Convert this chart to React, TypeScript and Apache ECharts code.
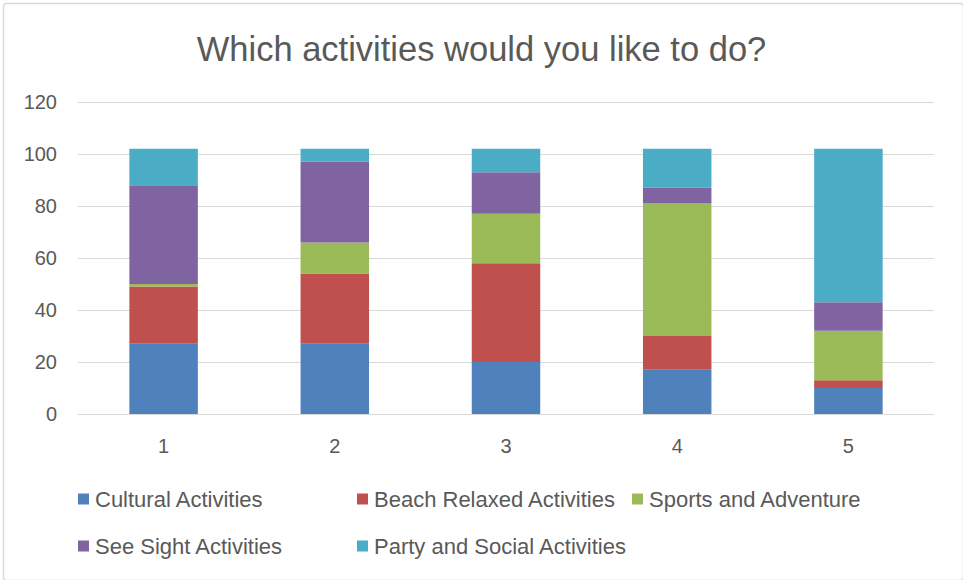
import React, { useEffect, useRef } from "react";
import * as echarts from "echarts";

const categories = ["1", "2", "3", "4", "5"];
const seriesNames = [
  "Cultural Activities",
  "Beach Relaxed Activities",
  "Sports and Adventure",
  "See Sight Activities",
  "Party and Social Activities",
];
const cultural = [27, 27, 20, 17, 10];
const beach = [22, 27, 38, 13, 3];
const sports = [1, 12, 19, 51, 19];
const seeSight = [38, 31, 16, 6, 11];
const party = [14, 5, 9, 15, 59];
const colors = ["#4F81BD", "#C0504D", "#9BBB59", "#8064A2", "#4BACC6"];
const yTicks = { min: 0, max: 120, interval: 20 };

const FONT = "'Liberation Sans', Arial, sans-serif";
const TEXT = "#595959";

export default function App() {
  const ref = useRef<HTMLDivElement>(null);
  useEffect(() => {
    if (!ref.current) return;
    const chart = echarts.init(ref.current, undefined, { renderer: "svg" });
    const values = [cultural, beach, sports, seeSight, party];
    const legendPos = [
      { left: 78, top: 488 },
      { left: 357, top: 488 },
      { left: 632, top: 488 },
      { left: 78, top: 535 },
      { left: 357, top: 535 },
    ];
    chart.setOption({
      animation: false,
      color: colors,
      title: {
        text: "Which activities would you like to do?",
        left: "center",
        top: 26,
        textStyle: { fontFamily: FONT, fontSize: 34.5, fontWeight: "normal", color: TEXT },
      },
      grid: { left: 78, right: 29, top: 102, bottom: 166 },
      legend: seriesNames.map((n, i) => ({
        data: [n],
        left: legendPos[i].left,
        top: legendPos[i].top,
        icon: "rect",
        itemWidth: 11,
        itemHeight: 11,
        itemGap: 0,
        padding: 0,
        textStyle: { fontFamily: FONT, fontSize: 22, color: TEXT, padding: [0, 0, 0, 1] },
        selectedMode: false,
      })),
      xAxis: {
        type: "category",
        data: categories,
        axisLine: { lineStyle: { color: "#D9D9D9", width: 1 } },
        axisTick: { show: false },
        axisLabel: { fontFamily: FONT, fontSize: 20, color: TEXT, margin: 22 },
      },
      yAxis: {
        type: "value",
        min: yTicks.min,
        max: yTicks.max,
        interval: yTicks.interval,
        axisLine: { show: false },
        axisTick: { show: false },
        splitLine: { lineStyle: { color: "#D9D9D9", width: 1 } },
        axisLabel: { fontFamily: FONT, fontSize: 20, color: TEXT, margin: 21 },
      },
      series: seriesNames.map((n, i) => ({
        name: n,
        type: "bar",
        stack: "total",
        barWidth: "40%",
        data: values[i],
        itemStyle: { color: colors[i] },
      })),
      graphic: [
        {
          type: "rect",
          left: 1,
          top: 1,
          shape: { width: 960, height: 577, r: 3 },
          style: { fill: "none", stroke: "#D9D9D9", lineWidth: 1.5 },
          silent: true,
        },
      ],
    });
    return () => chart.dispose();
  }, []);
  return (
    <div
      ref={ref}
      style={{ position: "fixed", left: 0, top: 0, width: 963, height: 580, background: "#fff" }}
    />
  );
}
